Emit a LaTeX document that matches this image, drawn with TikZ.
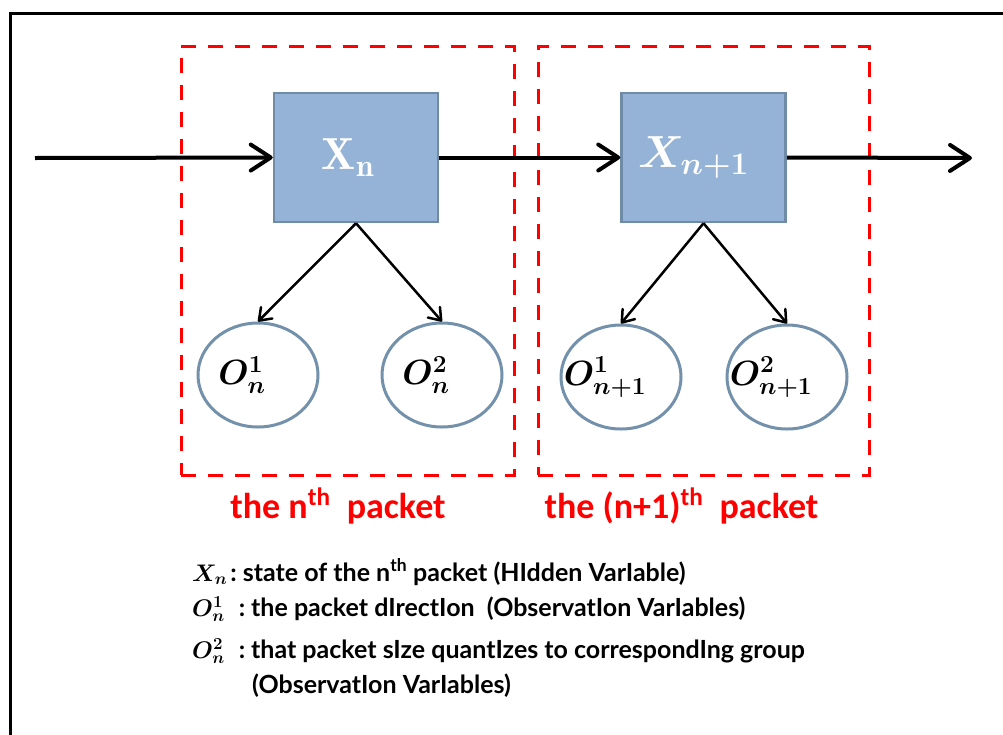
\RequirePackage{fix-cm}
\documentclass[tikz,border=0pt]{standalone}
\usepackage{amsmath,bm}
\usepackage{fontspec}
\newfontfamily\lblfont{Carlito}
\newfontfamily\legfont{Lato}
\usetikzlibrary{arrows.meta,shapes.geometric}
\definecolor{boxfill}{HTML}{95B3D7}
\definecolor{boxedge}{HTML}{6F8BA7}
\definecolor{obsedge}{HTML}{7391AB}
\newcommand{\legmath}[1]{{\fontsize{24}{27}\selectfont$\bm{#1}$}}
\tikzset{
  frameline/.style={line width=3pt},
  pkt/.style={draw=red, line width=3pt, dash pattern=on 15pt off 12pt, inner sep=0pt},
  statebox/.style={draw=boxedge, fill=boxfill, line width=2.5pt, minimum width=164pt, minimum height=129pt, inner sep=0pt, text=white, font=\fontsize{45}{48}\selectfont},
  obs/.style={ellipse, draw=obsedge, line width=3pt, minimum width=120pt, minimum height=104pt, inner sep=0pt, font=\fontsize{35}{38}\selectfont},
  chain/.style={line width=4pt, -{Straight Barb[length=20pt,width=26pt,round]}},
  emit/.style={line width=2.5pt, -{Straight Barb[length=11pt,width=16pt,round]}},
  pktlabel/.style={text=red, font=\lblfont\bfseries\fontsize{36}{40}\selectfont, inner sep=0pt},
  legend/.style={anchor=base west, inner sep=0pt, font=\legfont\bfseries\fontsize{25}{28}\selectfont}
}
\begin{document}
\begin{tikzpicture}[x=1pt,y=-1pt]
\useasboundingbox (0,0) rectangle (1003,734);
\clip (0,0) rectangle (1003,734);
\draw[frameline] (10,760) -- (10,13) -- (1030,13);

% packet frames
\node[pkt, minimum width=333pt, minimum height=429pt] (p1) at (347.5,260.5) {};
\node[pkt, minimum width=331pt, minimum height=429pt] (p2) at (703.5,260.5) {};

% states
\node[statebox] (xn) at (356,157.5) {\kern-16pt$\mathbf{X_n}$};
\node[statebox] (xn1) at (703.5,157.5) {\kern-20pt$\bm{X_{n+1}}$};

% observations
\node[obs] (o11) at (258,375) {\kern-32pt$\bm{O_n^1}$};
\node[obs] (o12) at (442,375) {\kern-32pt$\bm{O_n^2}$};
\node[obs] (o21) at (621,377) {\kern-32pt$\bm{O_{n+1}^1}$};
\node[obs] (o22) at (787,377) {\kern-32pt$\bm{O_{n+1}^2}$};

% chain
\coordinate (in) at (35,158);
\coordinate (out) at (972,158);
\draw[chain] (in) -- (xn.west);
\draw[chain] (xn.east) -- (xn1.west);
\draw[chain] (xn1.east) -- (out);

% emissions
\draw[emit] (xn.south) -- (o11.north);
\draw[emit] (xn.south) -- (o12.north);
\draw[emit] (xn1.south) -- (o21.north);
\draw[emit] (xn1.south) -- (o22.north);

% packet labels
\node[pktlabel] (l1) at (338,506) {the n\textsuperscript{th}\ \ packet};
\node[pktlabel] (l2) at (681.5,506) {the (n+1)\textsuperscript{th}\ \ packet};

% legend
\node[legend] (g1) at (192,581) {\legmath{X_n}\kern3pt:\kern6pt state of the n\textsuperscript{th} packet (HIdden VarIable)};
\node[legend] (g2) at (192,616) {\legmath{O_n^1}\kern14pt:\kern6pt the packet dIrectIon\ \ (ObservatIon VarIables)};
\node[legend] (g3) at (192,658) {\legmath{O_n^2}\kern14pt:\kern6pt that packet sIze quantIzes to correspondIng group};
\node[legend] (g4) at (252,693) {(ObservatIon VarIables)};
\end{tikzpicture}
\end{document}
